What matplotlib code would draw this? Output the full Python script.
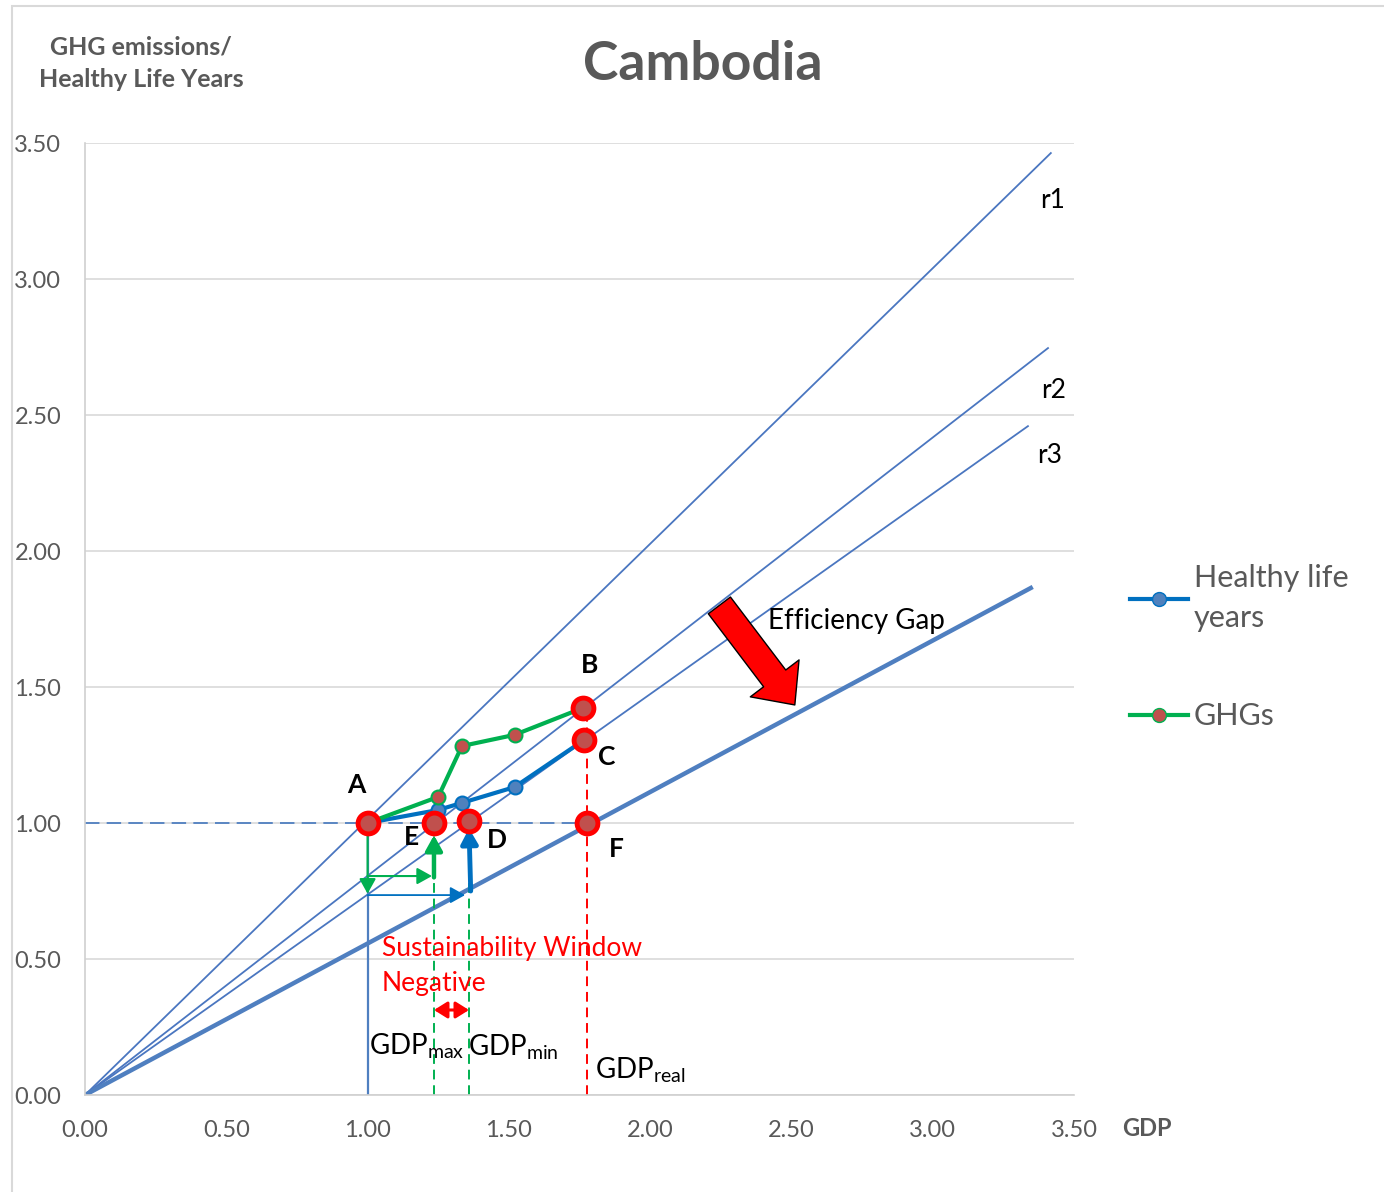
#!/usr/bin/env python3
from matplotlib import pyplot as plt
from matplotlib.patches import Rectangle
from matplotlib.lines import Line2D

plt.rcParams['font.family'] = ['Lato', 'DejaVu Sans']

# data
gdp_hly = [1.00, 1.25, 1.334, 1.52, 1.766]
val_hly = [1.00, 1.048, 1.074, 1.132, 1.305]
gdp_ghg = [1.00, 1.25, 1.334, 1.52, 1.762]
val_ghg = [1.00, 1.096, 1.283, 1.324, 1.423]

# key points A..F
pt_names = ["A", "B", "C", "D", "E", "F"]
pt_x = [1.00, 1.762, 1.766, 1.359, 1.235, 1.776]
pt_y = [1.00, 1.423, 1.305, 1.007, 1.00, 1.00]

# rays from origin (end points)
ray_names = ["r1", "r2", "r3"]
ray_end_x = [3.418, 3.408, 3.337]
ray_end_y = [3.463, 2.746, 2.459]
base_end = (3.347, 1.864)

ticks = [0.0, 0.5, 1.0, 1.5, 2.0, 2.5, 3.0, 3.5]

GRAY = "#595959"
RAY = "#4a76c0"


def main():
    fig = plt.figure(figsize=(13.84, 11.92), dpi=100)
    fig.patches.append(Rectangle((12 / 1384, -0.01), 1.1, 1 - 6 / 1192 + 0.01,
                                 transform=fig.transFigure, fill=False,
                                 edgecolor="#d9d9d9", lw=1.5))
    ax = fig.add_axes([85 / 1384, 1 - 1095 / 1192, (1074 - 85) / 1384, (1095 - 143) / 1192])
    ax.set_xlim(0, 3.5)
    ax.set_ylim(0, 3.5)
    ax.set_xticks(ticks)
    ax.set_yticks(ticks)
    ax.set_xticklabels([f"{t:.2f}" for t in ticks], fontsize=17, color=GRAY)
    ax.set_yticklabels([f"{t:.2f}" for t in ticks], fontsize=17, color=GRAY)
    ax.tick_params(axis="x", length=0, pad=18)
    ax.tick_params(axis="y", length=0, pad=17)
    for s in ["top", "right"]:
        ax.spines[s].set_visible(False)
    for s in ["left", "bottom"]:
        ax.spines[s].set_color("#d0d0d0")
        ax.spines[s].set_linewidth(1.2)
    ax.yaxis.grid(True, color="#d9d9d9", lw=1.2)
    ax.set_axisbelow(True)

    # rays
    for name, ex, ey in zip(ray_names, ray_end_x, ray_end_y):
        ax.plot([0, ex], [0, ey], color=RAY, lw=1.3, zorder=2)
    ax.plot([0, base_end[0]], [0, base_end[1]], color="#4f7fc0", lw=3.2, zorder=2)
    ax.text(3.38, 3.29, "r1", fontsize=19, va="center")
    ax.text(3.383, 2.59, "r2", fontsize=19, va="center")
    ax.text(3.369, 2.35, "r3", fontsize=19, va="center")

    # guide lines
    ax.plot([0, pt_x[5]], [1.0, 1.0], color="#4f7fc0", lw=1.3, ls=(0, (8, 4)), zorder=2)
    ax.plot([1.0, 1.0], [0, 1.0], color="#4f7fc0", lw=1.6, zorder=2)
    ax.plot([pt_x[4], pt_x[4]], [0, 1.0], color="#00b050", lw=1.4, ls=(0, (5, 3)), zorder=2)
    ax.plot([pt_x[3], pt_x[3]], [0, 1.0], color="#00b050", lw=1.4, ls=(0, (5, 3)), zorder=2)
    ax.plot([pt_x[5], pt_x[5]], [0, pt_y[1]], color="#ff0000", lw=1.4, ls=(0, (5, 3)), zorder=2)

    # arrows
    def arr(x0, y0, x1, y1, color, lw, hw=0.5, hl=0.9):
        ax.annotate("", xy=(x1, y1), xytext=(x0, y0),
                    arrowprops=dict(arrowstyle=f"-|>,head_width={hw},head_length={hl}",
                                    color=color, lw=lw, shrinkA=0, shrinkB=0), zorder=3)

    arr(1.0, 0.965, 1.0, 0.74, "#00b050", 1.5)
    arr(1.0, 0.805, 1.228, 0.805, "#00b050", 1.5)
    arr(1.235, 0.80, 1.235, 0.955, "#00b050", 3.2)
    arr(1.0, 0.735, 1.345, 0.735, "#0070c0", 1.3)
    arr(1.365, 0.75, 1.359, 0.98, "#0070c0", 3.5)
    ax.annotate("", xy=(1.235, 0.3125), xytext=(1.359, 0.3125),
                arrowprops=dict(arrowstyle="<|-|>,head_width=0.5,head_length=0.8",
                                color="#ff0000", lw=2.2, shrinkA=0, shrinkB=0), zorder=3)
    ax.annotate("", xy=(2.512, 1.434), xytext=(2.245, 1.80),
                arrowprops=dict(arrowstyle="simple,head_width=44,head_length=24,tail_width=20",
                                mutation_scale=1, fc="#ff0000", ec="black", lw=1.0,
                                shrinkA=0, shrinkB=0), zorder=4)

    # series
    ax.plot(gdp_hly, val_hly, color="#0070c0", lw=3, marker="o", ms=10,
            mfc="#4f81bd", mec="#0070c0", mew=1.5, zorder=5)
    ax.plot(gdp_ghg, val_ghg, color="#00b050", lw=3, marker="o", ms=10,
            mfc="#c0504d", mec="#00b050", mew=1.5, zorder=5)

    # key points
    ax.plot(pt_x, pt_y, ls="none", marker="o", ms=15, mfc="#c0504d", mec="#ff0000",
            mew=3.5, zorder=6)

    lab_pos = {"A": (0.96, 1.14), "B": (1.787, 1.58), "C": (1.847, 1.243),
               "D": (1.458, 0.9375), "E": (1.154, 0.949), "F": (1.879, 0.904)}
    for n in pt_names:
        ax.text(*lab_pos[n], n, fontsize=19, fontweight="bold", ha="center", va="center")

    ax.text(2.417, 1.743, "Efficiency Gap", fontsize=20, va="center")
    ax.text(1.05, 0.54, "Sustainability Window", fontsize=19, color="#ff0000", va="center")
    ax.text(1.05, 0.41, "Negative", fontsize=19, color="#ff0000", va="center")
    ax.text(1.005, 0.18, r"GDP$_{\mathregular{max}}$", fontsize=20, va="center")
    ax.text(1.355, 0.175, r"GDP$_{\mathregular{min}}$", fontsize=20, va="center")
    ax.text(1.805, 0.09, r"GDP$_{\mathregular{real}}$", fontsize=20, va="center")

    # titles and axis captions
    fig.text(703 / 1384, 1 - 65 / 1192, "Cambodia", fontsize=38.5, fontweight="bold",
             color=GRAY, ha="center", va="center")
    fig.text(141 / 1384, 1 - 63 / 1192, "GHG emissions/\nHealthy Life Years", fontsize=18,
             fontweight="bold", color=GRAY, ha="center", va="center", linespacing=1.5)
    fig.text(1147 / 1384, 1 - 1128 / 1192, "GDP", fontsize=17, fontweight="bold",
             color=GRAY, ha="center", va="center")

    handles = [
        Line2D([], [], color="#0070c0", lw=3, marker="o", ms=10, mfc="#4f81bd", mec="#0070c0"),
        Line2D([], [], color="#00b050", lw=3, marker="o", ms=10, mfc="#c0504d", mec="#00b050"),
    ]
    leg = fig.legend(handles, ["Healthy life\nyears", "GHGs"], loc="upper left",
                     bbox_to_anchor=(1102 / 1384, 1 - 537 / 1192), frameon=False,
                     fontsize=22, labelcolor=GRAY, handlelength=1.9, handletextpad=0.2,
                     labelspacing=2.3)
    for t in leg.get_texts():
        t.set_linespacing(1.5)

    fig.savefig("out.png", dpi=100)


if __name__ == "__main__":
    main()
